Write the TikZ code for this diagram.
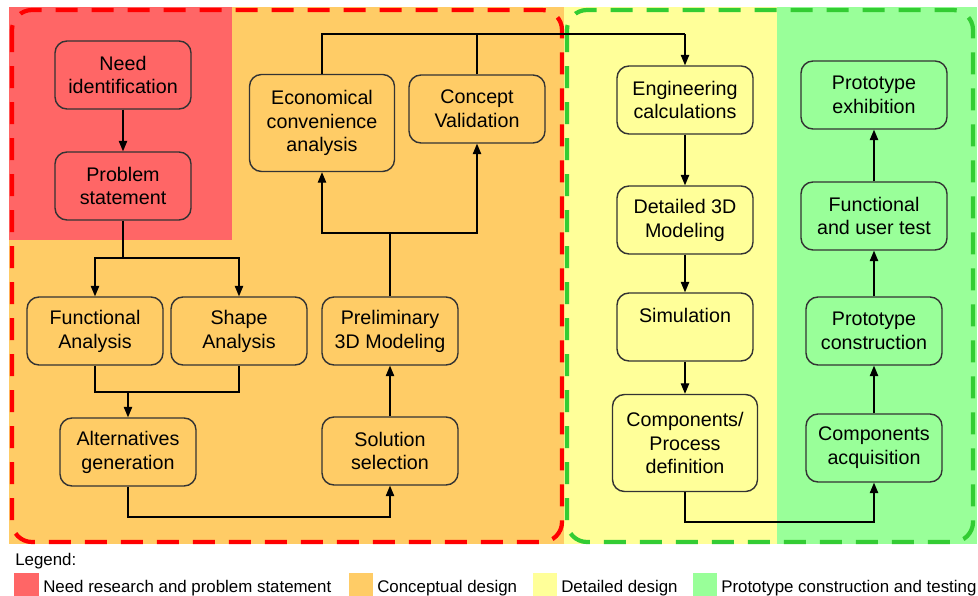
\documentclass[tikz,border=0pt]{standalone}
\usepackage{fontspec}
\setmainfont{Liberation Sans}
\usetikzlibrary{arrows.meta}
\definecolor{needred}{HTML}{FF6666}
\definecolor{conceptorange}{HTML}{FFCC66}
\definecolor{detailyellow}{HTML}{FFFF99}
\definecolor{protogreen}{HTML}{99FF99}
\definecolor{zonered}{HTML}{FF0000}
\definecolor{zonegreen}{HTML}{33CC33}
\definecolor{boxline}{HTML}{333333}

\begin{document}
\begin{tikzpicture}[x = 0.025cm, y = -0.025cm,
    box/.style = {shape = rectangle, rounded corners = 0.3cm, draw = boxline, line width = 1pt, minimum width = 3.4cm, minimum height = 1.7cm, align = center, inner sep = 2pt, font = \fontsize{14}{17}\selectfont},
    bigbox/.style = {box, minimum width = 3.625cm, minimum height = 2.425cm},
    widebox/.style = {box, minimum width = 3.65cm},
    link/.style = {draw = black, line width = 0.8pt},
    arr/.style = {link, -{Triangle[length = 2.6mm, width = 2.1mm]}},
    zone/.style = {line width = 3pt, dash pattern = on 0.55cm off 0.35cm, rounded corners = 0.5cm},
    key/.style = {anchor = base west, inner sep = 0pt, font = \fontsize{12}{14}\selectfont}]
    \useasboundingbox (0,0) rectangle (978,596);
    \fill[white] (0,0) rectangle (978,596);

    \fill[conceptorange] (9,7) rectangle (564,544);
    \fill[detailyellow] (564,7) rectangle (777,544);
    \fill[protogreen] (777,7) rectangle (977,544);
    \fill[needred] (9,7) rectangle (232,240);
    \draw[zone, zonered] (12,10) rectangle (562,542);
    \draw[zone, zonegreen] (567,10) rectangle (973,542);

    \node[box, fill = needred] (need) at (123,75) {Need\\identification};
    \node[box, fill = needred] (prob) at (123,186) {Problem\\statement};
    \node[box, fill = conceptorange] (func) at (95,331) {Functional\\Analysis};
    \node[box, fill = conceptorange] (shape) at (239,331) {Shape\\Analysis};
    \node[box, fill = conceptorange] (alt) at (128,452) {Alternatives\\generation};
    \node[box, fill = conceptorange] (sol) at (390,451) {Solution\\selection};
    \node[box, fill = conceptorange] (prelim) at (390,331) {Preliminary\\3D Modeling};
    \node[bigbox, fill = conceptorange] (econ) at (322,123) {Economical\\convenience\\analysis};
    \node[box, fill = conceptorange] (valid) at (477,109) {Concept\\Validation};
    \node[box, fill = detailyellow] (eng) at (685,100) {Engineering\\calculations};
    \node[box, fill = detailyellow] (det) at (685,220) {Detailed 3D\\Modeling};
    \node[box, fill = detailyellow] (sim) at (685,327) {Simulation\\\mbox{}};
    \node[bigbox, fill = detailyellow] (comp) at (685,443) {Components/\\Process\\definition};
    \node[box, fill = protogreen] (acq) at (874,448) {Components\\acquisition};
    \node[box, fill = protogreen] (constr) at (874,331) {Prototype\\construction};
    \node[widebox, fill = protogreen] (test) at (874,216) {Functional\\and user test};
    \node[widebox, fill = protogreen] (exhib) at (874,95) {Prototype\\exhibition};

    \coordinate (j1) at (123,258);
    \coordinate (j2) at (128,392);
    \coordinate (j3) at (390,517);
    \coordinate (j4) at (390,233);
    \coordinate (j5) at (685,34);
    \coordinate (j6) at (874,522);

    \draw[arr] (need) -- (prob);
    \draw[link] (prob) -- (j1);
    \draw[arr] (j1) -| (func);
    \draw[arr] (j1) -| (shape);
    \draw[link] (func) |- (j2);
    \draw[link] (shape) |- (j2);
    \draw[arr] (j2) -- (alt);
    \draw[arr] (alt) |- (j3) -- (sol);
    \draw[arr] (sol) -- (prelim);
    \draw[link] (prelim) -- (j4);
    \draw[arr] (j4) -| (econ);
    \draw[arr] (j4) -| (valid);
    \draw[link] (econ) |- (j5);
    \draw[link] (valid) |- (j5);
    \draw[arr] (j5) -- (eng);
    \draw[arr] (eng) -- (det);
    \draw[arr] (det) -- (sim);
    \draw[arr] (sim) -- (comp);
    \draw[arr] (comp) |- (j6) -- (acq);
    \draw[arr] (acq) -- (constr);
    \draw[arr] (constr) -- (test);
    \draw[arr] (test) -- (exhib);

    \node[key] (legend) at (15,565) {Legend:};
    \fill[needred] (14,573) rectangle (39,596);
    \node[key] (keyneed) at (43,592) {Need research and problem statement};
    \fill[conceptorange] (349,573) rectangle (373,596);
    \node[key] (keyconcept) at (377,592) {Conceptual design};
    \fill[detailyellow] (533,573) rectangle (557,596);
    \node[key] (keydetail) at (561,592) {Detailed design};
    \fill[protogreen] (693,573) rectangle (717,596);
    \node[key] (keyproto) at (721,592) {Prototype construction and testing};
\end{tikzpicture}
\end{document}
